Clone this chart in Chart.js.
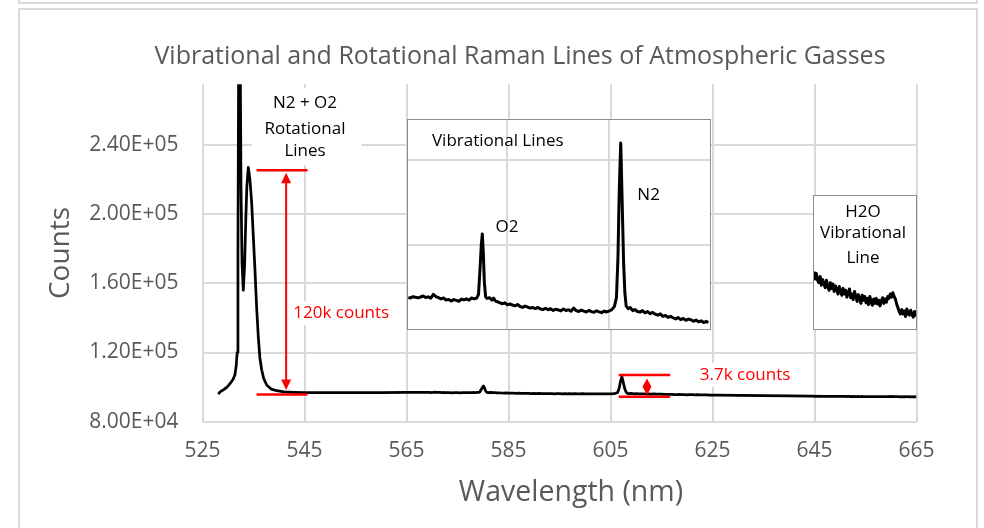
<!DOCTYPE html>
<html>
<head>
<meta charset="utf-8">
<script src="https://cdn.jsdelivr.net/npm/chart.js@4.4.1/dist/chart.umd.min.js"></script>
<style>
html,body{margin:0;padding:0;background:#fff;}
#wrap{position:relative;width:984px;height:528px;overflow:hidden;background:#fff;}
#main{position:absolute;left:0;top:0;}
.frame{position:absolute;background:#d9d9d9;}
.inset{position:absolute;background:#fff;}
.inset canvas{position:absolute;left:0;top:0;}
</style>
</head>
<body>
<div id="wrap">
  <canvas id="main" width="984" height="528"></canvas>
  <div class="inset" style="left:407px;top:119px;width:304px;height:211px"><canvas id="vib" width="304" height="211"></canvas></div>
  <div class="inset" style="left:813px;top:195px;width:104px;height:135px"><canvas id="h2o" width="104" height="135"></canvas></div>
  <div class="frame" style="left:18px;top:2px;width:960px;height:2px"></div>
  <div class="frame" style="left:18px;top:0px;width:2px;height:3px"></div>
  <div class="frame" style="left:976px;top:0px;width:2px;height:3px"></div>
  <div class="frame" style="left:18px;top:8px;width:960px;height:2px"></div>
  <div class="frame" style="left:18px;top:8px;width:2px;height:520px"></div>
  <div class="frame" style="left:976px;top:8px;width:2px;height:520px"></div>
</div>
<script>
// ---------------- DATA ----------------
const xTicks = [525, 545, 565, 585, 605, 625, 645, 665];
const yTicks = [80000, 120000, 160000, 200000, 240000];

// Rayleigh + rotational region
const rotWl = [528.1,528.4,528.8,529.3,529.8,530.2,530.6,531.0,531.35,531.6,531.8,531.95,532.1,532.25,532.4,532.55,532.75,533.0,533.25,533.5,533.7,533.98,534.3,534.65,534.95,535.29,535.6,535.94,536.25,536.6,537.0,537.59,538.5,539.55,541.0,543.0];
const rotCounts = [96000,97100,97900,98800,100000,101300,102800,104500,107000,112000,120000,175000,300000,420000,290000,215000,172000,156000,170000,198000,216000,227000,220000,206000,188000,167500,147000,129000,117000,110000,105000,101200,98800,97900,97300,97000];

// flat baseline pieces
const base1Wl = [545, 550, 555, 560, 565];
const base1Counts = [96800, 96850, 96800, 96850, 96900];
const base2Wl = [626, 630, 635, 640, 644.3];
const base2Counts = [95400, 95250, 95100, 94950, 94800];

// O2 / N2 vibrational region
const vibWl = [565.6,566.0,566.5,567.0,567.5,568.0,568.5,569.0,569.5,570.0,
  570.5,571.0,571.5,572.0,572.5,573.0,573.5,574.0,574.5,575.0,
  575.5,576.0,576.5,577.0,577.5,578.0,578.5,579.0,579.35,579.65,
  579.9,580.1,580.3,580.5,580.75,581.0,581.5,582.0,582.3,582.7,
  583.1,583.6,584.0,584.5,585.0,585.5,586.0,586.5,587.0,587.5,
  588.0,588.5,589.0,589.5,590.0,590.5,591.0,591.5,592.0,592.5,
  593.0,593.5,594.0,594.5,595.0,595.5,596.0,596.5,597.0,597.5,
  598.0,598.5,599.0,599.5,600.0,600.5,601.0,601.5,602.0,602.5,
  603.0,603.5,604.0,604.5,605.0,605.5,606.0,606.4,606.7,606.95,
  607.24,607.5,607.8,608.05,608.3,608.7,609.1,609.6,610.0,610.5,
  611.0,611.5,612.0,612.5,613.0,613.5,614.0,614.5,615.0,615.5,
  616.0,616.5,617.0,617.5,618.0,618.5,619.0,619.5,620.0,620.5,
  621.0,621.5,622.0,622.5,623.0,623.5,624.0,624.4];
const vibCounts = [96920,96880,96960,96930,96890,96940,97000,96910,96950,96870,
  97090,96960,96900,96830,96880,96760,96800,96700,96790,96740,
  96690,96820,96770,96830,96760,96880,96830,96880,97100,98600,
  100000,100650,99500,97800,96950,96860,96900,96760,96870,96700,
  96660,96590,96540,96600,96480,96530,96470,96420,96500,96380,
  96330,96410,96350,96290,96320,96260,96330,96230,96200,96280,
  96190,96250,96150,96220,96180,96120,96240,96150,96190,96100,
  96290,96140,96090,96170,96110,96060,96150,96080,96040,96130,
  96070,96020,96110,96060,96120,96200,96380,96900,99300,103200,
  106000,102800,99000,97200,96420,96250,96320,96140,96210,96090,
  96050,96140,96010,96080,95960,96030,95930,95870,95950,95800,
  95860,95740,95800,95720,95650,95730,95610,95680,95570,95640,
  95600,95510,95590,95480,95540,95440,95510,95430];

// H2O vibrational region
const h2oWl = [644.75,645.0,645.25,645.5,645.75,646.0,646.25,646.5,646.75,647.0,
  647.25,647.5,647.75,648.0,648.25,648.5,648.75,649.0,649.25,649.5,
  649.75,650.0,650.25,650.5,650.75,651.0,651.25,651.5,651.75,652.0,
  652.25,652.5,652.75,653.0,653.25,653.5,653.75,654.0,654.25,654.5,
  654.75,655.0,655.25,655.5,655.75,656.0,656.25,656.5,656.75,657.0,
  657.25,657.5,657.75,658.0,658.25,658.5,658.75,659.0,659.25,659.5,
  659.75,660.0,660.25,660.5,660.75,661.0,661.25,661.5,661.75,662.0,
  662.25,662.5,662.75,663.0,663.25,663.5,663.75,664.0,664.25,664.5,
  664.75,665.0];
const h2oCounts = [94760,94700,94745,94690,94670,94720,94650,94695,94665,94630,
  94690,94640,94610,94670,94625,94660,94600,94645,94615,94580,
  94640,94600,94570,94625,94580,94610,94555,94590,94620,94550,
  94580,94535,94600,94560,94520,94575,94545,94505,94570,94530,
  94560,94510,94545,94495,94560,94520,94490,94540,94505,94545,
  94500,94530,94485,94525,94550,94505,94540,94515,94560,94545,
  94580,94555,94590,94560,94540,94500,94470,94440,94420,94455,
  94420,94445,94400,94460,94425,94410,94450,94415,94395,94440,
  94410,94430];

const TITLE = 'Vibrational and Rotational Raman Lines of Atmospheric Gasses';
const X_TITLE = 'Wavelength (nm)';
const Y_TITLE = 'Counts';

// ---------------- BUILD ----------------
function toPoints(wl, c){ return wl.map((w,i)=>({x:w, y:c[i]})); }
const spectrum = [].concat(
  toPoints(rotWl, rotCounts), toPoints(base1Wl, base1Counts),
  toPoints(vibWl, vibCounts), toPoints(base2Wl, base2Counts),
  toPoints(h2oWl, h2oCounts)
).sort((a,b)=>a.x-b.x);

function fmtExp(v){
  const e = Math.floor(Math.log10(v));
  const m = v/Math.pow(10,e);
  return m.toFixed(2)+'E+'+String(e).padStart(2,'0');
}

const GRID = '#d9d9d9';
const TXT = '#595959';
const FONT = '"Open Sans", "Noto Sans", sans-serif';

// annotations in data units of the main chart
const rotLabel = {lines:['N2 + O2','Rotational','Lines'], x:545.1, y:[264000,249200,236100], box:[534.65,556.2,272900,228400]};
const rotBar = {x1:535.6, x2:545.6, top:225400, bottom:95700, arrowX:541.4};
const rotText = {text:'120k counts', x:542.8, y:142700};
const vibBar = {x1:606.6, x2:616.7, top:107000, bottom:94450, arrowX:612.15};
const vibText = {text:'3.7k counts', x:622.5, y:107000};

function textWithBg(ctx, s, px, py){
  ctx.font = '17px ' + FONT;
  const w = ctx.measureText(s).width;
  ctx.fillStyle = '#fff';
  ctx.fillRect(px-4, py-12, w+8, 24);
  ctx.fillStyle = '#ff0000';
  ctx.textAlign='left'; ctx.textBaseline='middle';
  ctx.fillText(s, px, py);
}

const annotPlugin = {
  id:'annot',
  afterDatasetsDraw(chart){
    const ctx = chart.ctx, X = chart.scales.x, Y = chart.scales.y;
    const px = v=>X.getPixelForValue(v), py = v=>Y.getPixelForValue(v);
    ctx.save();
    const b = rotLabel.box;
    ctx.fillStyle = '#fff';
    ctx.fillRect(px(b[0]), py(b[2]), px(b[1])-px(b[0]), py(b[3])-py(b[2]));
    ctx.fillStyle = '#000';
    ctx.font = '17px ' + FONT;
    ctx.textAlign='center'; ctx.textBaseline='middle';
    rotLabel.lines.forEach((l,i)=>ctx.fillText(l, px(rotLabel.x), py(rotLabel.y[i])));
    ctx.strokeStyle = '#ff0000'; ctx.fillStyle = '#ff0000'; ctx.lineWidth = 2.5;
    [rotBar, vibBar].forEach(r=>{
      ctx.beginPath();
      ctx.moveTo(px(r.x1), py(r.top)); ctx.lineTo(px(r.x2), py(r.top));
      ctx.moveTo(px(r.x1), py(r.bottom)); ctx.lineTo(px(r.x2), py(r.bottom));
      ctx.stroke();
    });
    {
      const ax = px(rotBar.arrowX), yT = py(rotBar.top)+2.5, yB = py(rotBar.bottom)-4.5;
      ctx.lineWidth = 2;
      ctx.beginPath(); ctx.moveTo(ax, yT+8); ctx.lineTo(ax, yB-8); ctx.stroke();
      ctx.beginPath(); ctx.moveTo(ax, yT); ctx.lineTo(ax+5, yT+10.5); ctx.lineTo(ax-5, yT+10.5); ctx.closePath(); ctx.fill();
      ctx.beginPath(); ctx.moveTo(ax, yB); ctx.lineTo(ax+5, yB-10.5); ctx.lineTo(ax-5, yB-10.5); ctx.closePath(); ctx.fill();
    }
    {
      const ax = px(vibBar.arrowX), yT = py(vibBar.top)+3.5, yB = py(vibBar.bottom)-1.8, ym = (yT+yB)/2;
      ctx.beginPath(); ctx.moveTo(ax, yT); ctx.lineTo(ax+4.5, ym); ctx.lineTo(ax, yB); ctx.lineTo(ax-4.5, ym); ctx.closePath(); ctx.fill();
    }
    textWithBg(ctx, rotText.text, px(rotText.x), py(rotText.y));
    textWithBg(ctx, vibText.text, px(vibText.x), py(vibText.y));
    ctx.fillStyle = TXT; ctx.textAlign='center'; ctx.textBaseline='middle';
    ctx.font = '25px ' + FONT;
    ctx.fillText(TITLE, 520, 57);
    ctx.font = '28.5px ' + FONT;
    ctx.fillText(X_TITLE, 571, 493);
    ctx.restore();
  }
};

new Chart(document.getElementById('main'), {
  type:'line',
  data:{datasets:[{data:spectrum, borderColor:'#000', borderWidth:2.75, pointRadius:0, tension:0, fill:false, borderJoinStyle:'round'}]},
  options:{
    responsive:false, animation:false, events:[],
    layout:{padding:{left:0, right:67.5, top:84.35, bottom:0}},
    plugins:{legend:{display:false}, tooltip:{enabled:false}, title:{display:false}},
    scales:{
      x:{type:'linear', min:525, max:665,
        afterBuildTicks:s=>{ s.ticks = xTicks.map(v=>({value:v})); },
        afterFit:s=>{ s.height = 106.3; },
        grid:{color:GRID, lineWidth:2, drawTicks:false},
        border:{display:false},
        ticks:{color:TXT, font:{family:FONT, size:21}, padding:17, maxRotation:0, autoSkip:false}
      },
      y:{type:'linear', min:80000, max:275000,
        afterBuildTicks:s=>{ s.ticks = yTicks.map(v=>({value:v})); },
        afterFit:s=>{ s.width = 202.5; },
        grid:{color:GRID, lineWidth:2, drawTicks:false},
        border:{display:false},
        ticks:{color:TXT, font:{family:FONT, size:21}, padding:24, callback:v=>fmtExp(v)},
        title:{display:true, text:Y_TITLE, color:TXT, font:{family:FONT, size:28}, padding:{top:44, bottom:0}}
      }
    }
  },
  plugins:[annotPlugin]
});

// ---------------- INSETS ----------------
function insetPlugin(texts){
  return {
    id:'insetDeco',
    afterDraw(chart){
      const ctx = chart.ctx, X = chart.scales.x, Y = chart.scales.y;
      ctx.save();
      ctx.fillStyle = '#000'; ctx.font = '17px ' + FONT; ctx.textBaseline='middle';
      texts.forEach(t=>{ ctx.textAlign = t.align; ctx.fillText(t.text, X.getPixelForValue(t.x), Y.getPixelForValue(t.y)); });
      ctx.strokeStyle = '#8c8c8c'; ctx.lineWidth = 1;
      ctx.strokeRect(0.5, 0.5, chart.width-1, chart.height-1);
      ctx.restore();
    }
  };
}

const vibTicksX = [585, 605];
const vibTicksY = [100000, 105000];
const vibPoints = spectrum.filter(p=>p.x>=565.33 && p.x<=624.94);
new Chart(document.getElementById('vib'), {
  type:'line',
  data:{datasets:[{data:vibPoints, borderColor:'#000', borderWidth:3, pointRadius:0, tension:0, borderJoinStyle:'round'}]},
  options:{
    responsive:false, animation:false, events:[],
    layout:{padding:0},
    plugins:{legend:{display:false}, tooltip:{enabled:false}},
    scales:{
      x:{type:'linear', min:565.33, max:624.94, afterBuildTicks:s=>{ s.ticks = vibTicksX.map(v=>({value:v})); },
        ticks:{display:false}, grid:{color:GRID, lineWidth:2, drawTicks:false}, border:{display:false}},
      y:{type:'linear', min:95000, max:107407, afterBuildTicks:s=>{ s.ticks = vibTicksY.map(v=>({value:v})); },
        ticks:{display:false}, grid:{color:GRID, lineWidth:2, drawTicks:false}, border:{display:false}}
    }
  },
  plugins:[insetPlugin([
    {text:'Vibrational Lines', x:570.23, y:106113, align:'left'},
    {text:'O2', x:582.7, y:101074, align:'left'},
    {text:'N2', x:610.5, y:102938, align:'left'}
  ])]
});

const h2oPoints = spectrum.filter(p=>p.x>=644.6 && p.x<=665);
new Chart(document.getElementById('h2o'), {
  type:'line',
  data:{datasets:[{data:h2oPoints, borderColor:'#000', borderWidth:3, pointRadius:0, tension:0, borderJoinStyle:'round'}]},
  options:{
    responsive:false, animation:false, events:[],
    layout:{padding:0},
    plugins:{legend:{display:false}, tooltip:{enabled:false}},
    scales:{
      x:{type:'linear', min:644.6, max:664.99, ticks:{display:false}, grid:{display:false, drawTicks:false}, border:{display:false}},
      y:{type:'linear', min:94292, max:95372, ticks:{display:false}, grid:{display:false, drawTicks:false}, border:{display:false}}
    }
  },
  plugins:[insetPlugin([
    {text:'H2O', x:654.4, y:95238, align:'center'},
    {text:'Vibrational', x:654.4, y:95066, align:'center'},
    {text:'Line', x:654.4, y:94866, align:'center'}
  ])]
});
</script>
</body>
</html>
